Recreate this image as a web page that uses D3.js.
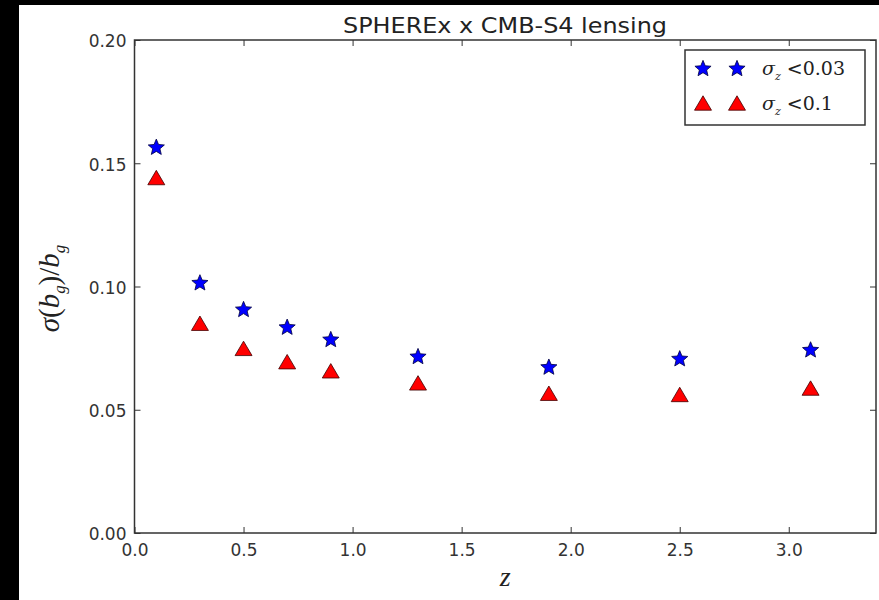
<!DOCTYPE html>
<html><head><meta charset="utf-8">
<script src="https://cdn.jsdelivr.net/npm/d3@7"></script>
<style>body{margin:0;background:#000;}svg{display:block;}</style>
</head><body>
<svg id="chart" width="879" height="600"></svg>
<script>
const zValues = [0.1, 0.3, 0.5, 0.7, 0.9, 1.3, 1.9, 2.5, 3.1];
const sigma003 = [0.1567, 0.1017, 0.0909, 0.0837, 0.0787, 0.0718, 0.0675, 0.0709, 0.0745];
const sigma01  = [0.1442, 0.0851, 0.0749, 0.0695, 0.0658, 0.0609, 0.0567, 0.0562, 0.0588];
const xTicks = [0.0, 0.5, 1.0, 1.5, 2.0, 2.5, 3.0];
const yTicks = [0.00, 0.05, 0.10, 0.15, 0.20];
const seriesNames = ["<0.03", "<0.1"];

const svg = d3.select("#chart");
svg.append("rect").attr("x",19).attr("y",5).attr("width",860).attr("height",595).attr("fill","#fff");

const m = {l:134.5, r:876, t:40, b:533};
const x = d3.scaleLinear().domain([0, 3.4]).range([m.l, m.r]);
const y = d3.scaleLinear().domain([0, 0.20]).range([m.b, m.t]);
const axColor = "#333", txtColor = "#333";

// custom matplotlib-like markers (centered on bbox)
const starSym = {draw(ctx, size){
  const R = Math.sqrt(size), r = R*0.45;
  for(let i=0;i<10;i++){
    const a = -Math.PI/2 + i*Math.PI/5, rr = i%2===0?R:r;
    const px = rr*Math.cos(a), py = rr*Math.sin(a)+R*0.1;
    if(i===0) ctx.moveTo(px,py); else ctx.lineTo(px,py);
  }
  ctx.closePath();
}};
const triSym = {draw(ctx, size){
  const s = Math.sqrt(size);
  ctx.moveTo(0,-s*0.85); ctx.lineTo(s,s*0.85); ctx.lineTo(-s,s*0.85); ctx.closePath();
}};
const starPath = d3.symbol(starSym, 72)();
const triPath = d3.symbol(triSym, 72)();

// axes with inward ticks on all sides
const g = svg.append("g");
const tickLen = 6;
const xb = g.append("g").attr("transform",`translate(0,${m.b})`)
  .call(d3.axisBottom(x).tickValues(xTicks).tickSize(-tickLen).tickPadding(10).tickFormat(d3.format(".1f")));
const xt = g.append("g").attr("transform",`translate(0,${m.t})`)
  .call(d3.axisTop(x).tickValues(xTicks).tickSize(-tickLen).tickFormat(""));
const yl = g.append("g").attr("transform",`translate(${m.l},0)`)
  .call(d3.axisLeft(y).tickValues(yTicks).tickSize(-tickLen).tickPadding(8).tickFormat(d3.format(".2f")));
const yr = g.append("g").attr("transform",`translate(${m.r},0)`)
  .call(d3.axisRight(y).tickValues(yTicks).tickSize(-tickLen).tickFormat(""));
[xb,xt,yl,yr].forEach(a=>{
  a.select(".domain").remove();
  a.selectAll(".tick line").attr("stroke",axColor).attr("stroke-width",1);
  a.selectAll(".tick text").attr("fill",txtColor).style("font-family","DejaVu Sans").style("font-size","17px");
});
yl.selectAll(".tick text").attr("dy","0.4em");
xb.selectAll(".tick text").attr("dy","0.75em");
g.append("rect").attr("x",m.l).attr("y",m.t).attr("width",m.r-m.l).attr("height",m.b-m.t)
  .attr("fill","none").attr("stroke",axColor).attr("stroke-width",1.5);

// data
svg.append("g").selectAll("path").data(zValues).join("path")
  .attr("d",starPath).attr("transform",(d,i)=>`translate(${x(d)},${y(sigma003[i])})`)
  .attr("fill","#0000ff").attr("stroke","#000040").attr("stroke-width",0.8);
svg.append("g").selectAll("path").data(zValues).join("path")
  .attr("d",triPath).attr("transform",(d,i)=>`translate(${x(d)},${y(sigma01[i])})`)
  .attr("fill","#ff0000").attr("stroke","#400000").attr("stroke-width",0.8);

// title
svg.append("text").attr("x",343).attr("y",33).attr("textLength",324).attr("lengthAdjust","spacingAndGlyphs")
  .attr("fill","#222").style("font-family","DejaVu Sans").style("font-size","20.5px").text("SPHEREx x CMB-S4 lensing");

// x label
svg.append("text").attr("x",(m.l+m.r)/2).attr("y",586).attr("text-anchor","middle")
  .attr("fill","#222").style("font-family","Liberation Serif").style("font-style","italic").style("font-size","28px").text("z");

// y label
const ylab = svg.append("text").attr("transform",`translate(59,${(m.t+m.b)/2+2}) rotate(-90)`)
  .attr("text-anchor","middle").attr("fill","#222").style("font-family","Liberation Serif").style("font-size","29px");
ylab.append("tspan").style("font-style","italic").text("σ");
ylab.append("tspan").text("(");
ylab.append("tspan").style("font-style","italic").text("b");
ylab.append("tspan").style("font-style","italic").style("font-size","17px").attr("dy",6).text("g");
ylab.append("tspan").attr("dy",-6).text(")/");
ylab.append("tspan").style("font-style","italic").text("b");
ylab.append("tspan").style("font-style","italic").style("font-size","17px").attr("dy",6).text("g");

// legend
const lg = svg.append("g");
lg.append("rect").attr("x",685).attr("y",50).attr("width",180).attr("height",75)
  .attr("fill","#fff").attr("stroke",axColor).attr("stroke-width",1.5);
const legRows = [{p:starPath, f:"#0000ff", s:"#000040", y:68},{p:triPath, f:"#ff0000", s:"#400000", y:103}];
legRows.forEach((r,i)=>{
  [703,737].forEach(px=>lg.append("path").attr("d",r.p).attr("transform",`translate(${px},${r.y})`)
    .attr("fill",r.f).attr("stroke",r.s).attr("stroke-width",0.8));
  const t = lg.append("text").attr("x",762).attr("y",r.y+7).attr("fill","#222")
    .style("font-family","DejaVu Serif").style("font-size","19px");
  t.append("tspan").style("font-style","italic").text("σ");
  t.append("tspan").style("font-style","italic").style("font-size","11px").attr("dy",5).text("z");
  t.append("tspan").attr("dy",-5).attr("dx",6).text(seriesNames[i]);
});
</script>
</body></html>
